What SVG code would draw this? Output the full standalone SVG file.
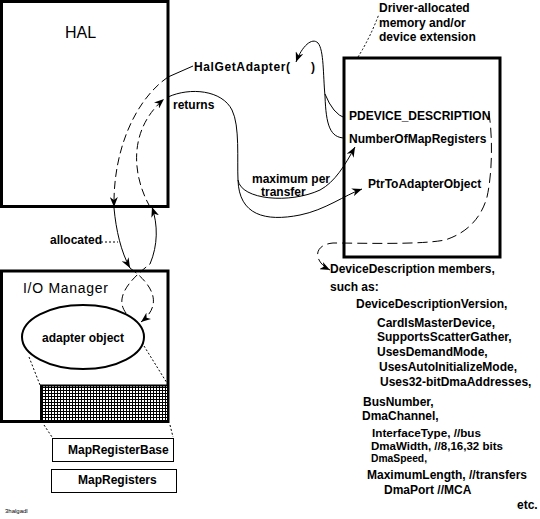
<svg xmlns="http://www.w3.org/2000/svg" width="540" height="519" viewBox="0 0 540 519">
<style>
text{font-family:"Liberation Sans",Arial,sans-serif;fill:#000}
.b{font-weight:bold;font-size:12px}
.s{font-weight:bold;font-size:11px}
.box{fill:#fff;stroke:#000;stroke-width:3}
.thin{fill:#fff;stroke:#000;stroke-width:1}
.c{fill:none;stroke:#000;stroke-width:1}
.d{fill:none;stroke:#000;stroke-width:1;stroke-dasharray:8 4}
.dl{fill:none;stroke:#000;stroke-width:1;stroke-dasharray:10 5}
.dot{fill:none;stroke:#000;stroke-width:1;stroke-dasharray:2 2}
</style>
<defs>
<marker id="arr" markerUnits="userSpaceOnUse" viewBox="0 0 10 8" markerWidth="10" markerHeight="8" refX="10" refY="4" orient="auto">
<path d="M0,0 L10,4 L0,8 L3,4 Z" fill="#000"/>
</marker>
<pattern id="grid" width="3" height="3" patternUnits="userSpaceOnUse">
<rect width="3" height="3" fill="#fff"/>
<path d="M0,0.5 H3 M0.5,0 V3" stroke="#000" stroke-width="1"/>
</pattern>
</defs>
<rect width="540" height="519" fill="#fff"/>

<g id="hal">
<rect class="box" x="1.5" y="1.5" width="166.5" height="205"/>
<text x="65" y="38" font-size="16">HAL</text>
</g>

<g id="io-manager">
<rect class="box" x="1.5" y="271" width="166.5" height="150.5"/>
<text x="23" y="293" font-size="14" textLength="85" lengthAdjust="spacing">I/O Manager</text>
</g>

<g id="map-registers-area">
<rect x="41" y="385.5" width="127" height="36" fill="url(#grid)" stroke="#000" stroke-width="2"/>
</g>

<g id="adapter-object">
<ellipse cx="83" cy="337" rx="61" ry="32" fill="#fff" stroke="#000" stroke-width="2"/>
<text class="b" x="42" y="342">adapter object</text>
</g>

<g id="map-register-base">
<rect class="thin" x="52.5" y="438.5" width="121" height="23"/>
<text class="b" x="68" y="453.5">MapRegisterBase</text>
</g>

<g id="map-registers">
<rect class="thin" x="51.5" y="469.5" width="125" height="23"/>
<text class="b" x="78" y="484">MapRegisters</text>
</g>

<g id="device-extension">
<rect class="box" x="344" y="58" width="156" height="199"/>
<text class="b" x="379" y="12">Driver-allocated</text>
<text class="b" x="379" y="27">memory and/or</text>
<text class="b" x="379" y="41">device extension</text>
<text class="b" x="349" y="120">PDEVICE_DESCRIPTION</text>
<text class="b" x="349" y="143">NumberOfMapRegisters</text>
<text class="b" x="368" y="188">PtrToAdapterObject</text>
</g>

<g id="hal-get-adapter">
<text class="b" x="194" y="71" textLength="96" lengthAdjust="spacing">HalGetAdapter(</text>
<text class="b" x="311" y="71">)</text>
</g>

<g id="labels">
<text class="b" x="173" y="109">returns</text>
<text class="b" x="252" y="183">maximum per</text>
<text class="b" x="261" y="195.5">transfer</text>
<text class="b" x="50" y="244">allocated</text>
<text x="5" y="513" font-size="6">3halgadl</text>
</g>

<g id="device-description-members">
<text class="b" x="330" y="273">DeviceDescription members,</text>
<text class="b" x="330" y="291">such as:</text>
<text class="b" x="356" y="308">DeviceDescriptionVersion,</text>
<text class="b" x="377" y="327">CardIsMasterDevice,</text>
<text class="b" x="377" y="341">SupportsScatterGather,</text>
<text class="b" x="377" y="356">UsesDemandMode,</text>
<text class="b" x="379" y="371">UsesAutoInitializeMode,</text>
<text class="b" x="380" y="386">Uses32-bitDmaAddresses,</text>
<text class="b" x="363" y="406">BusNumber,</text>
<text class="b" x="362" y="420">DmaChannel,</text>
<text class="s" x="372" y="437" textLength="109" lengthAdjust="spacingAndGlyphs">InterfaceType, //bus</text>
<text class="s" x="371" y="449.5" textLength="132" lengthAdjust="spacingAndGlyphs">DmaWidth, //8,16,32 bits</text>
<text class="s" x="371" y="462" textLength="56" lengthAdjust="spacingAndGlyphs">DmaSpeed,</text>
<text class="b" x="367" y="479">MaximumLength, //transfers</text>
<text class="b" x="384" y="494">DmaPort  //MCA</text>
<text class="b" x="517" y="509">etc.</text>
</g>

<g id="connectors">
<!-- HalGetAdapter call: allocation path -->
<path class="c" d="M193,66 L168,77"/>
<path class="d" d="M168,77 C135,100 113,150 114,207" marker-end="url(#arr)"/>
<path class="c" d="M114,208 C116,230 121,252 130,268" marker-end="url(#arr)"/>
<path class="d" d="M130,268 C152,284 164,304 141,322" marker-end="url(#arr)"/>
<path class="dot" d="M101,242 L118,242"/>
<!-- returns path -->
<path class="d" d="M126,313 C116,300 124,284 150,264"/>
<path class="c" d="M150,264 C158,245 158,225 152,207" marker-end="url(#arr)"/>
<path class="d" d="M150,207 C132,175 128,130 164,99" marker-end="url(#arr)"/>
<!-- returns to device extension -->
<path class="c" d="M168,97 C190,87 222,90 232,110 C240,126 237,160 238,180"/>
<path class="c" d="M238,180 C241,200 290,204 320,190 C335,182 345,165 355,147" marker-end="url(#arr)"/>
<path class="c" d="M238,180 C239,215 265,222 300,215 C325,210 345,195 362,189" marker-end="url(#arr)"/>
<!-- parameters into HalGetAdapter -->
<path class="c" d="M325,96 C323,75 324,50 318,43 C312,37 302,46 296,62" marker-end="url(#arr)"/>
<path class="c" d="M325,94 Q333,114 345,118"/>
<path class="c" d="M325,96 C326,125 330,138 345,138"/>
<!-- device description members -->
<path class="dl" d="M489,113 C493,140 492,175 487,197 C482,215 470,232 445,240 C420,245 360,243 333,243 C312,245 314,262 330,270" marker-end="url(#arr)"/>
<!-- driver-allocated pointer -->
<path class="dot" d="M358,57 Q370,38 379,14"/>
<!-- adapter object to map registers -->
<path class="dot" d="M29,357 L40,385"/>
<path class="dot" d="M144,346 L167,383"/>
<path class="dot" d="M44,425 L52,437"/>
<path class="dot" d="M170,425 L173,437"/>
</g>
</svg>
